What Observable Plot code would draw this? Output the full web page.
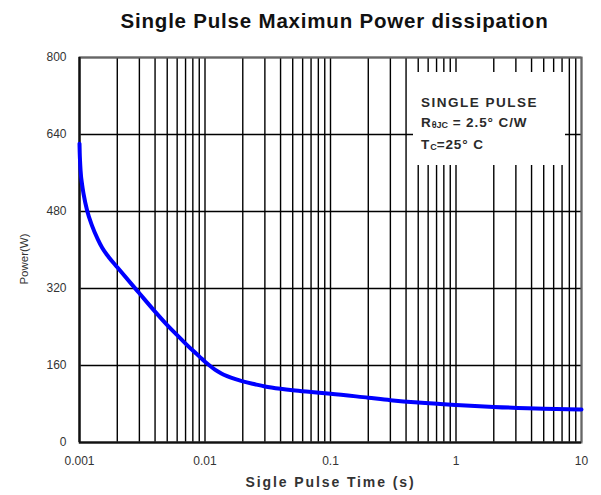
<!DOCTYPE html>
<html><head><meta charset="utf-8">
<script src="https://cdn.jsdelivr.net/npm/d3@7"></script>
<script src="https://cdn.jsdelivr.net/npm/@observablehq/plot@0.6"></script>
<style>
body{margin:0;background:#fff;font-family:"Liberation Sans",Arial,sans-serif;}
#wrap{position:relative;width:601px;height:495px;overflow:hidden;}
#title{position:absolute;left:0;top:0;width:601px;height:40px;display:flex;align-items:center;justify-content:center;box-sizing:border-box;padding-left:68px;padding-top:2px;font-weight:bold;font-size:20.5px;letter-spacing:0.8px;color:#111;}
#chart{position:absolute;left:0;top:40px;}
#legend{position:absolute;left:413px;top:72px;width:152px;height:93px;background:#fff;box-sizing:border-box;padding:21px 0 0 8px;font-size:13.5px;font-weight:bold;color:#2a2a2a;line-height:19.5px;letter-spacing:0.9px;}
#legend sub{font-size:9px;vertical-align:-1px;letter-spacing:0;}
</style></head><body>
<div id="wrap">
<div id="title">Single Pulse Maximun Power dissipation</div>
<div id="chart"></div>
<div id="legend">
<div style="letter-spacing:1.5px">SINGLE PULSE</div>
<div>R<sub>θJC</sub> = 2.5° C/W</div>
<div>T<sub>C</sub>=25° C</div>
</div>
</div>
<script>
// pulse time (s)
const times  = [0.001, 0.001004, 0.00101, 0.00102, 0.00105, 0.00108, 0.00115, 0.00126, 0.0014, 0.00152, 0.0017, 0.002, 0.003, 0.004, 0.005, 0.006, 0.007, 0.008, 0.009, 0.01, 0.011, 0.012, 0.0135, 0.015, 0.0175, 0.02, 0.025, 0.03, 0.04, 0.05, 0.07, 0.1, 0.2, 0.3, 0.5, 1, 2, 5, 10];
// power (W)
const powers = [621, 602, 585, 565, 535, 515, 482, 450, 422, 404, 386, 364, 310, 272, 244, 223, 205.5, 191, 179, 168, 159, 151.5, 143.5, 138, 131.5, 127, 121, 116.5, 111.5, 108.5, 105, 101.5, 93, 88, 83, 78, 74, 70, 68.5];
const xTicks = [0.001, 0.01, 0.1, 1, 10];
const xTickLabels = ["0.001", "0.01", "0.1", "1", "10"];
const xGrid = [0.001,0.002,0.003,0.004,0.005,0.006,0.007,0.008,0.009,
               0.01,0.02,0.03,0.04,0.05,0.06,0.07,0.08,0.09,
               0.1,0.2,0.3,0.4,0.5,0.6,0.7,0.8,0.9,
               1,2,3,4,5,6,7,8,9,10];
const yTicks = [0, 160, 320, 480, 640, 800];

const data = times.map((t, i) => ({t, p: powers[i]}));
const labelOf = new Map(xTicks.map((v, i) => [v, xTickLabels[i]]));

const chart = Plot.plot({
  width: 601,
  height: 455,
  marginLeft: 79,
  marginRight: 20,
  marginTop: 17,
  marginBottom: 53,
  style: {fontFamily: '"Liberation Sans", Arial, sans-serif', fontSize: "12px", color: "#333", background: "transparent"},
  x: {type: "log", domain: [0.001, 10]},
  y: {domain: [0, 800]},
  marks: [
    Plot.ruleX(xGrid, {stroke: "#000", strokeWidth: 1.4}),
    Plot.ruleY(yTicks, {stroke: "#000", strokeWidth: 1.4}),
    Plot.frame({stroke: "#666", strokeWidth: 2}),
    Plot.ruleX([0.001], {stroke: "#111", strokeWidth: 2.2}),
    Plot.ruleY([0], {stroke: "#111", strokeWidth: 2.2}),
    Plot.line(data, {x: "t", y: "p", stroke: "#0000ff", strokeWidth: 4, curve: "monotone-x"}),
    Plot.axisX({ticks: xTicks, tickFormat: d => labelOf.get(d), tickSize: 0, tickPadding: 14,
      label: "Sigle Pulse Time (s)", labelAnchor: "center", labelOffset: 44, labelArrow: false,
      fontSize: 12, fill: "#333"}),
    Plot.axisY({ticks: yTicks, tickSize: 0, tickPadding: 13,
      label: "Power(W)", labelAnchor: "center", labelOffset: 60, labelArrow: false, fontSize: 12, fill: "#333"})
  ]
});
document.getElementById("chart").appendChild(chart);
// style axis titles
chart.querySelectorAll("[aria-label='x-axis label']").forEach(e => {
  e.setAttribute("font-weight", "bold"); e.setAttribute("font-size", "14"); e.setAttribute("letter-spacing", "1.9"); e.setAttribute("fill", "#333");
});
chart.querySelectorAll("[aria-label='y-axis label']").forEach(e => {
  e.setAttribute("font-size", "11.5"); e.setAttribute("fill", "#333");
  e.querySelectorAll("text").forEach(t => t.setAttribute("fill", "#333"));
  e.setAttribute("transform", "translate(0,9) " + (e.getAttribute("transform") || ""));
});
</script>
</body></html>
